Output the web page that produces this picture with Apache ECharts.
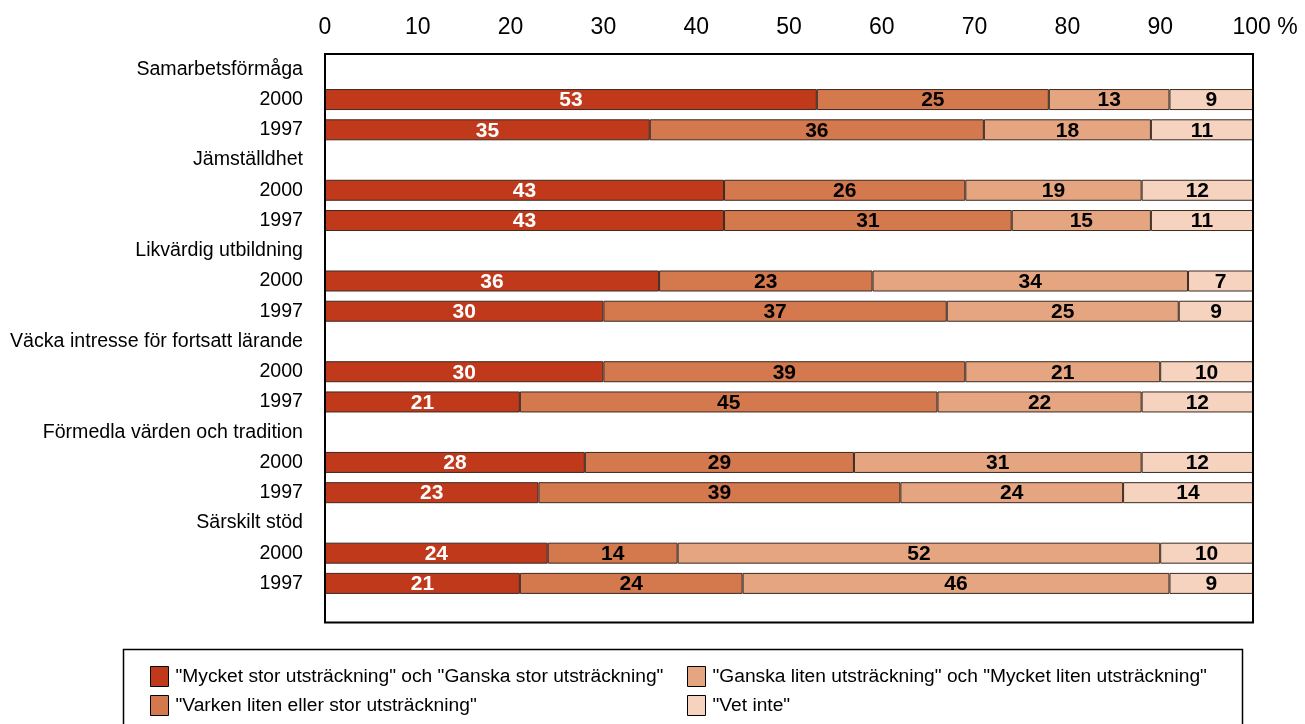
<!DOCTYPE html>
<html>
<head>
<meta charset="utf-8">
<script src="https://cdn.jsdelivr.net/npm/echarts@6/dist/echarts.min.js"></script>
<style>
html,body{margin:0;padding:0;background:#fff;}
#chart{width:1305px;height:724px;}
</style>
</head>
<body>
<div id="chart"></div>
<script>
// ---- data ----
const groups = ['Samarbetsförmåga','Jämställdhet','Likvärdig utbildning','Väcka intresse för fortsatt lärande','Förmedla värden och tradition','Särskilt stöd'];
const years = ['2000','1997'];
const seriesNames = ['"Mycket stor utsträckning" och "Ganska stor utsträckning"','"Varken liten eller stor utsträckning"','"Ganska liten utsträckning" och "Mycket liten utsträckning"','"Vet inte"'];
// order per group: 2000, 1997
const stor    = [53,35, 43,43, 36,30, 30,21, 28,23, 24,21];
const varken  = [25,36, 26,31, 23,37, 39,45, 29,39, 14,24];
const liten   = [13,18, 19,15, 34,25, 21,22, 31,24, 52,46];
const vetInte = [ 9,11, 12,11,  7, 9, 10,12, 12,14, 10, 9];
const xTicks = [0,10,20,30,40,50,60,70,80,90,100];

const colors = ['#C0391B','#D4784E','#E5A580','#F5D3BE'];
const FONT = '"Liberation Sans", Arial, sans-serif';

// build category rows: header, 2000, 1997 per group
const categories = [];
groups.forEach(g => { categories.push(g); years.forEach(y => categories.push(y)); });
function expand(arr){
  const out = [];
  groups.forEach((g,i) => { out.push(null); out.push(arr[2*i]); out.push(arr[2*i+1]); });
  return out;
}
const seriesData = [stor, varken, liten, vetInte].map(expand);

const rowH = 30.24;
const chart = echarts.init(document.getElementById('chart'));
chart.setOption({
  animation:false,
  backgroundColor:'#fff',
  textStyle:{fontFamily:FONT},
  grid:[
    {left:325, right:52, top:54.2, height:rowH*categories.length, show:false},
    {left:325, right:52, top:54, height:568.5, show:true, borderColor:'#000', borderWidth:2, backgroundColor:'transparent', z:3}
  ],
  xAxis:[
    {gridIndex:0, type:'value', min:0, max:100, show:false},
    {gridIndex:1, type:'value', min:0, max:100, interval:10, position:'top',
     axisLine:{show:false}, axisTick:{show:false}, splitLine:{show:false},
     axisLabel:{fontSize:23, color:'#000', margin:15, fontFamily:FONT,
       formatter:v => v===100 ? '{p|100 %}' : String(v),
       rich:{p:{fontSize:23, color:'#000', fontFamily:FONT, padding:[0,0,0,24]}}}}
  ],
  yAxis:[
    {gridIndex:0, type:'category', inverse:true, data:categories,
     axisLine:{show:false}, axisTick:{show:false}, splitLine:{show:false},
     axisLabel:{fontSize:19.6, color:'#000', margin:22, fontFamily:FONT, interval:0}},
    {gridIndex:1, type:'value', show:false}
  ],
  legend:[
    {data:[seriesNames[0], seriesNames[1]], orient:'vertical', left:145, top:661,
     itemWidth:18, itemHeight:20, itemGap:8, icon:'rect',
     itemStyle:{borderColor:'#000', borderWidth:1},
     textStyle:{fontSize:19.2, color:'#000', fontFamily:FONT, padding:[0,0,0,2]}},
    {data:[seriesNames[2], seriesNames[3]], orient:'vertical', left:682, top:661,
     itemWidth:18, itemHeight:20, itemGap:8, icon:'rect',
     itemStyle:{borderColor:'#000', borderWidth:1},
     textStyle:{fontSize:19.2, color:'#000', fontFamily:FONT, padding:[0,0,0,2]}}
  ],
  graphic:[
    {type:'rect', left:121, top:647, shape:{width:1119, height:90},
     style:{fill:'none', stroke:'#000', lineWidth:1.5}, silent:true, z:-1}
  ],
  series: seriesData.map((d,i) => ({
    name: seriesNames[i], type:'bar', stack:'tot', xAxisIndex:0, yAxisIndex:0,
    barWidth:21, data:d,
    itemStyle:{color:colors[i], borderColor:'#3a2a22', borderWidth:1},
    label:{show:true, position:'inside', fontSize:21, fontWeight:'bold',
      color: i===0 ? '#fff' : '#000', fontFamily:FONT, offset:[0,1]}
  }))
});
</script>
</body>
</html>
